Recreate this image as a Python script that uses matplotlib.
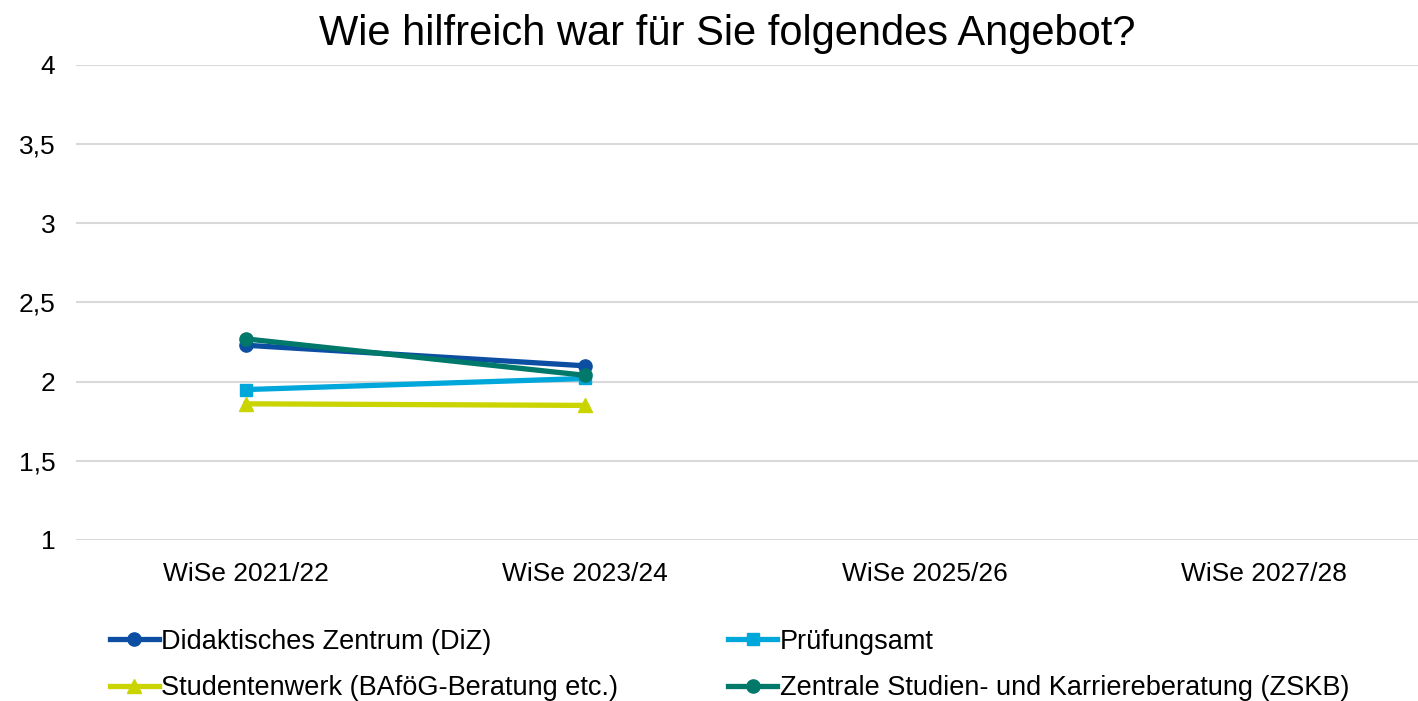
import numpy as np
import matplotlib
matplotlib.use("Agg")
import matplotlib.pyplot as plt

plt.rcParams['font.family'] = ['Liberation Sans', 'DejaVu Sans']

semester = ["WiSe 2021/22", "WiSe 2023/24", "WiSe 2025/26", "WiSe 2027/28"]
diz = [2.23, 2.10, np.nan, np.nan]
pruefungsamt = [1.95, 2.02, np.nan, np.nan]
studentenwerk = [1.86, 1.85, np.nan, np.nan]
zskb = [2.27, 2.04, np.nan, np.nan]

x = np.arange(len(semester))

fig = plt.figure(figsize=(14.18, 7.01), dpi=100)
ax = fig.add_axes([0.0536, 0.2297, 0.9577, 0.6776])

l1, = ax.plot(x, diz, color="#0B4EA2", lw=3.8, marker="o", ms=9.5, label="Didaktisches Zentrum (DiZ)")
l2, = ax.plot(x, pruefungsamt, color="#00A7DB", lw=3.8, marker="s", ms=8.5, label="Prüfungsamt")
l3, = ax.plot(x, studentenwerk, color="#C9D400", lw=3.8, marker="^", ms=10.5, label="Studentenwerk (BAföG-Beratung etc.)")
l4, = ax.plot(x, zskb, color="#00786A", lw=3.8, marker="o", ms=9.5, label="Zentrale Studien- und Karriereberatung (ZSKB)")

ax.set_xlim(-0.5, 3.5)
ax.set_ylim(1, 4)
ax.set_yticks([1, 1.5, 2, 2.5, 3, 3.5, 4])
ax.set_yticklabels(["1", "1,5", "2", "2,5", "3", "3,5", "4"])
ax.set_xticks(x)
ax.set_xticklabels(semester)
ax.tick_params(axis="both", length=0, labelsize=19)
ax.tick_params(axis="y", pad=15)
ax.tick_params(axis="x", pad=16)
ax.grid(axis="y", color="#D9D9D9", lw=1.5)
ax.set_axisbelow(True)
for s in ax.spines.values():
    s.set_visible(False)

fig.suptitle("Wie hilfreich war für Sie folgendes Angebot?", fontsize=30, x=0.513, y=0.98, va="top")

fig.legend([l1, l3, l2, l4], [l1.get_label(), l3.get_label(), l2.get_label(), l4.get_label()],
           ncol=2, loc="upper left", bbox_to_anchor=(0.0776, 0.103), frameon=False,
           fontsize=19.5, handlelength=1.8, handletextpad=0.1, columnspacing=4.05,
           labelspacing=0.75, borderpad=0, borderaxespad=0)

fig.savefig("out.png", dpi=100)
